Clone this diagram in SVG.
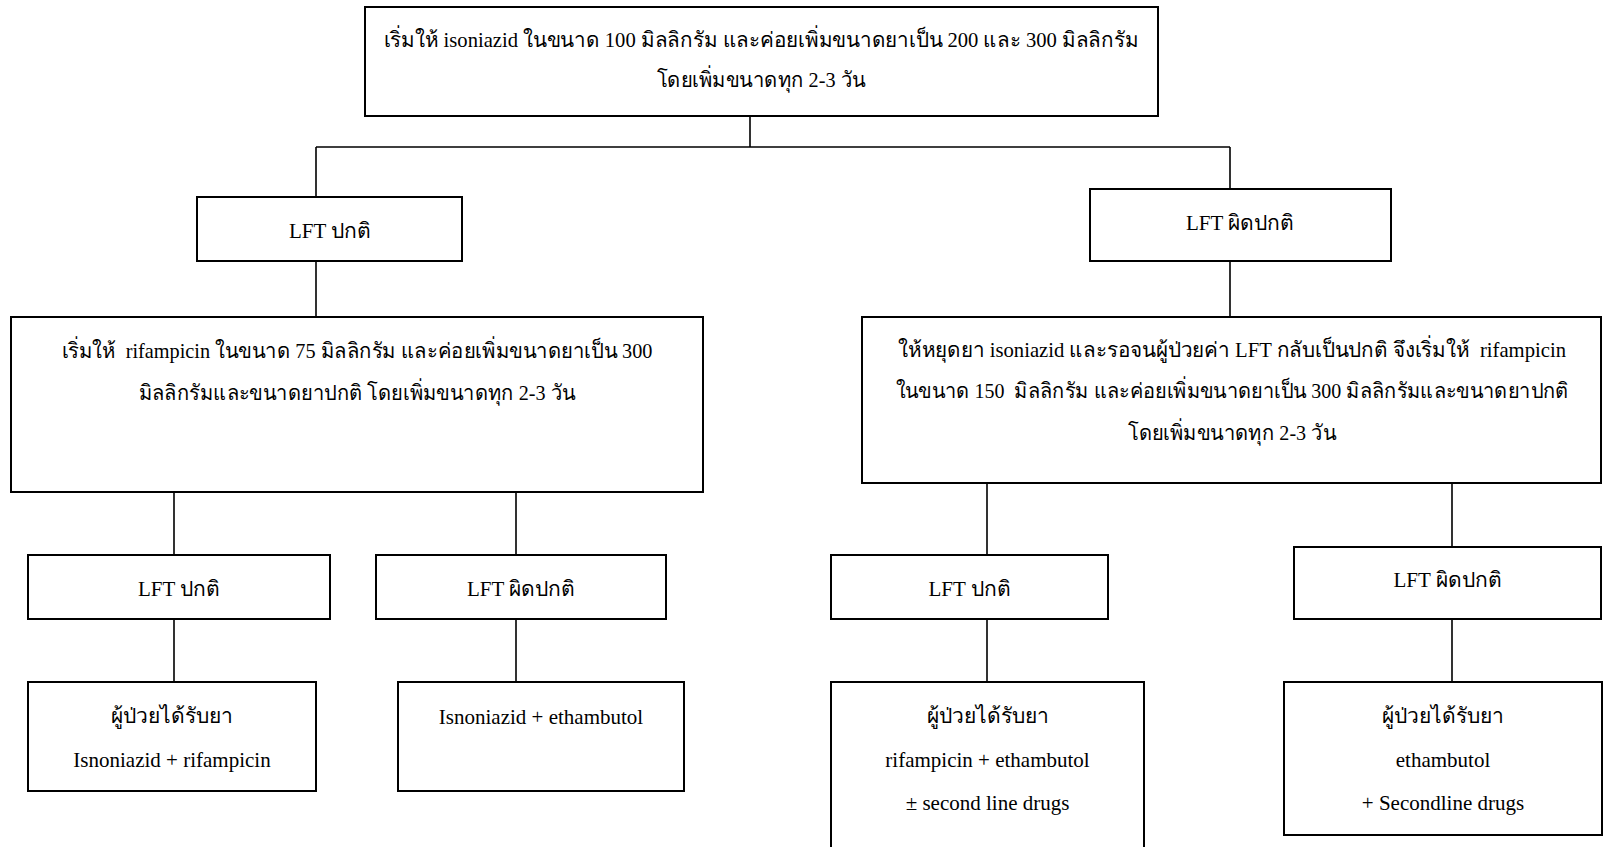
<svg xmlns="http://www.w3.org/2000/svg" width="1604" height="847" viewBox="0 0 1604 847">
<style>
.box{fill:#fff;stroke:#000;stroke-width:2}
.ln{fill:none;stroke:#000;stroke-width:1.6}
text{font-family:"Liberation Serif","Times New Roman",serif;font-size:21px;fill:#000;text-anchor:middle;white-space:pre}
</style>
<rect width="1604" height="847" fill="#fff"/>
<g id="connectors">
<path class="ln" d="M750,116V147M316,147H1230M316,147V197M1230,147V189M316,261V317M1230,261V317M174,492V555M516,492V555M987,483V555M1452,483V547M174,619V682M516,619V682M987,619V682M1452,619V682"/>
</g>
<g id="n_start">
<rect class="box" x="365" y="7" width="793" height="109"/>
<text x="761" y="47" textLength="755" lengthAdjust="spacingAndGlyphs">เริ่มให้ isoniazid ในขนาด 100 มิลลิกรัม และค่อยเพิ่มขนาดยาเป็น 200 และ 300 มิลลิกรัม</text>
<text x="761" y="87" textLength="209" lengthAdjust="spacingAndGlyphs">โดยเพิ่มขนาดทุก 2-3 วัน</text>
</g>
<g id="n_lft_normal">
<rect class="box" x="197" y="197" width="265" height="64"/>
<text x="330" y="238">LFT ปกติ</text>
</g>
<g id="n_lft_abnormal">
<rect class="box" x="1090" y="189" width="301" height="72"/>
<text x="1240" y="230">LFT ผิดปกติ</text>
</g>
<g id="n_rif_start">
<rect class="box" x="11" y="317" width="692" height="175"/>
<text x="357" y="358" textLength="591" lengthAdjust="spacingAndGlyphs">เริ่มให้  rifampicin ในขนาด 75 มิลลิกรัม และค่อยเพิ่มขนาดยาเป็น 300</text>
<text x="357" y="400" textLength="437" lengthAdjust="spacingAndGlyphs">มิลลิกรัมและขนาดยาปกติ โดยเพิ่มขนาดทุก 2-3 วัน</text>
</g>
<g id="n_stop_inh">
<rect class="box" x="862" y="317" width="739" height="166"/>
<text x="1232" y="357" textLength="668" lengthAdjust="spacingAndGlyphs">ให้หยุดยา isoniazid และรอจนผู้ป่วยค่า LFT กลับเป็นปกติ จึงเริ่มให้  rifampicin</text>
<text x="1232" y="398" textLength="673" lengthAdjust="spacingAndGlyphs">ในขนาด 150  มิลลิกรัม และค่อยเพิ่มขนาดยาเป็น 300 มิลลิกรัมและขนาดยาปกติ</text>
<text x="1232" y="440" textLength="208" lengthAdjust="spacingAndGlyphs">โดยเพิ่มขนาดทุก 2-3 วัน</text>
</g>
<g id="n_l3a">
<rect class="box" x="28" y="555" width="302" height="64"/>
<text x="179" y="596">LFT ปกติ</text>
</g>
<g id="n_l3b">
<rect class="box" x="376" y="555" width="290" height="64"/>
<text x="521" y="596">LFT ผิดปกติ</text>
</g>
<g id="n_l3c">
<rect class="box" x="831" y="555" width="277" height="64"/>
<text x="969.5" y="596">LFT ปกติ</text>
</g>
<g id="n_l3d">
<rect class="box" x="1294" y="547" width="307" height="72"/>
<text x="1447.5" y="587">LFT ผิดปกติ</text>
</g>
<g id="n_l4a">
<rect class="box" x="28" y="682" width="288" height="109"/>
<text x="172" y="723">ผู้ป่วยได้รับยา</text>
<text x="172" y="767">Isnoniazid + rifampicin</text>
</g>
<g id="n_l4b">
<rect class="box" x="398" y="682" width="286" height="109"/>
<text x="541" y="724">Isnoniazid + ethambutol</text>
</g>
<g id="n_l4c">
<rect class="box" x="831" y="682" width="313" height="180"/>
<text x="987.5" y="723">ผู้ป่วยได้รับยา</text>
<text x="987.5" y="767">rifampicin + ethambutol</text>
<text x="987.5" y="810">± second line drugs</text>
</g>
<g id="n_l4d">
<rect class="box" x="1284" y="682" width="318" height="153"/>
<text x="1443" y="723">ผู้ป่วยได้รับยา</text>
<text x="1443" y="767">ethambutol</text>
<text x="1443" y="810">+ Secondline drugs</text>
</g>
</svg>
